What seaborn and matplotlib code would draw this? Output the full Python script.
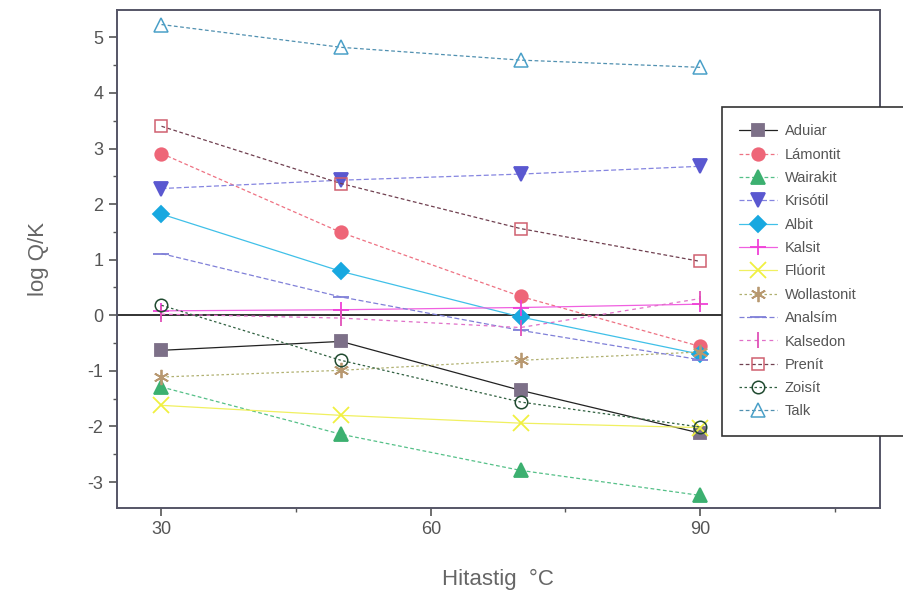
import numpy as np
import pandas as pd
import matplotlib
matplotlib.use("Agg")
import matplotlib.pyplot as plt
from matplotlib.ticker import MultipleLocator
import seaborn as sns

# Data
temps = [30, 50, 70, 90]

minerals = ["Aduiar", "Lámontit", "Wairakit", "Krisótil", "Albit", "Kalsit", "Flúorit",
            "Wollastonit", "Analsím", "Kalsedon", "Prenít", "Zoisít", "Talk"]

aduiar = [-0.63, -0.47, -1.35, -2.12]
lamontit = [2.91, 1.49, 0.34, -0.56]
wairakit = [-1.29, -2.14, -2.79, -3.24]
krisotil = [2.28, 2.43, 2.54, 2.68]
albit = [1.82, 0.79, -0.03, -0.70]
kalsit = [0.08, 0.10, 0.14, 0.20]
fluorit = [-1.62, -1.80, -1.94, -2.02]
wollastonit = [-1.11, -0.99, -0.81, -0.66]
analsim = [1.11, 0.33, -0.27, -0.80]
kalsedon = [0.02, -0.05, -0.22, 0.30]
prenit = [3.40, 2.37, 1.56, 0.97]
zoisit = [0.18, -0.81, -1.56, -2.01]
talk = [5.23, 4.82, 4.59, 4.46]

values = [aduiar, lamontit, wairakit, krisotil, albit, kalsit, fluorit,
          wollastonit, analsim, kalsedon, prenit, zoisit, talk]

ASTERISK = (6, 2, 0)

# Styles per series: (line colour, marker, marker colour, filled, linestyle, size)
STYLES = {
    "Aduiar": ("#222222", "s", "#7d7088", True, "-", 9),
    "Lámontit": ("#ee7283", "o", "#ee6678", True, (0, (3, 2)), 9),
    "Wairakit": ("#55c088", "^", "#3cb070", True, (0, (3, 2)), 10),
    "Krisótil": ("#8585e0", "v", "#5a58d0", True, (0, (4, 2)), 10),
    "Albit": ("#40c0e8", "D", "#18a8e0", True, "-", 8),
    "Kalsit": ("#f060e0", "+", "#f040d8", True, "-", 12),
    "Flúorit": ("#f0f060", "x", "#f0f040", True, "-", 11),
    "Wollastonit": ("#b0b070", ASTERISK, "#b89870", True, (0, (2, 2)), 11),
    "Analsím": ("#8080d8", "_", "#8080d8", True, (0, (4, 2)), 11),
    "Kalsedon": ("#e070c8", "|", "#e050b8", True, (0, (3, 3)), 11),
    "Prenít": ("#704050", "s", "#d06070", False, (0, (3, 2)), 9),
    "Zoisít": ("#306040", "o", "#204a30", False, (0, (2, 2)), 9),
    "Talk": ("#5090b0", "^", "#4aa0c8", False, (0, (3, 2)), 10),
}

sns.set_style("ticks")
plt.rcParams["font.family"] = ["Liberation Sans", "DejaVu Sans"]
plt.rcParams["axes.unicode_minus"] = False

fig = plt.figure(figsize=(9.04, 5.93), dpi=100)
ax = fig.add_axes([0.129, 0.143, 0.844, 0.840])

for name, vals in zip(minerals, values):
    lc, mk, mc, filled, ls, ms = STYLES[name]
    sns.lineplot(x=temps, y=vals, ax=ax, color=lc, linewidth=0.9, linestyle=ls,
                 marker=mk, markersize=ms,
                 markerfacecolor=mc if filled else "none",
                 markeredgecolor=mc, markeredgewidth=1.3 if filled else 1.1,
                 label=name)

ax.axhline(0, color="#222222", linewidth=1.3, zorder=1)

ax.set_xlim(25, 110)
ax.set_ylim(-3.47, 5.49)
ax.xaxis.set_major_locator(MultipleLocator(30))
ax.xaxis.set_minor_locator(MultipleLocator(15))
ax.yaxis.set_major_locator(MultipleLocator(1))
ax.yaxis.set_minor_locator(MultipleLocator(0.5))

ax.tick_params(axis="both", which="major", direction="out", length=6, width=1.2,
               labelsize=13, labelcolor="#555555", color="#555555",
               top=False, right=False)
ax.tick_params(axis="both", which="minor", direction="out", length=3, width=1.0,
               color="#555555", top=False, right=False)
for s in ax.spines.values():
    s.set_color("#555566")
    s.set_linewidth(1.4)

ax.set_xlabel("Hitastig  °C", fontsize=16, color="#666666", labelpad=22)
ax.set_ylabel("log Q/K", fontsize=16, color="#666666", labelpad=28)

leg_top = 1 - 107 / 593
leg_h = (428 - 107) / 593
leg = ax.legend(loc="upper left",
                bbox_to_anchor=(722 / 904, leg_top - leg_h, 0.23, leg_h),
                bbox_transform=fig.transFigure, mode="expand", borderaxespad=0,
                fontsize=10.5, labelspacing=0.64, handlelength=2.6,
                handletextpad=0.5, borderpad=1.2,
                frameon=True, fancybox=False, edgecolor="#333333", framealpha=1)
leg.get_frame().set_linewidth(1.2)
for t in leg.get_texts():
    t.set_color("#555555")

fig.savefig("out.png", dpi=100)
